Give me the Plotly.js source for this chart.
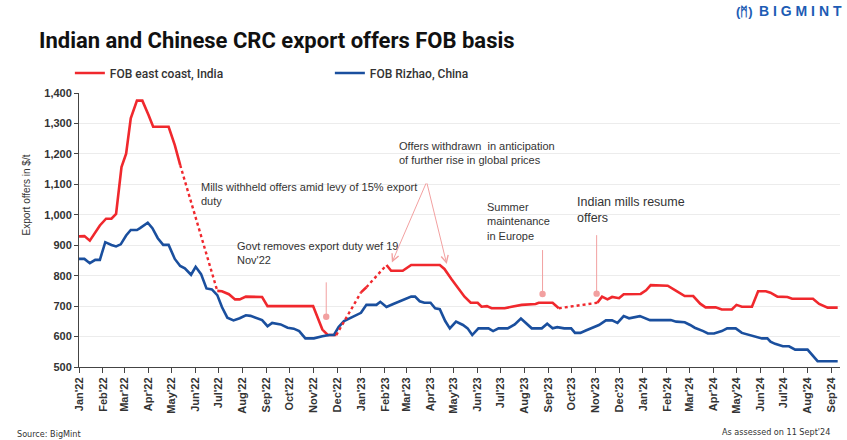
<!DOCTYPE html>
<html>
<head>
<meta charset="utf-8">
<script src="https://cdn.plot.ly/plotly-3.0.1.min.js"></script>
<style>
  html, body { margin: 0; padding: 0; background: #fff; }
  #chart { width: 847px; height: 440px; }
</style>
</head>
<body>
<div id="chart"></div>
<script>
// weekly CRC export offers, $/t
var indiaDates = ['2022-01-01','2022-01-08','2022-01-15','2022-01-22','2022-01-28','2022-02-05','2022-02-12','2022-02-18','2022-02-25','2022-03-03',
  '2022-03-09','2022-03-17','2022-03-24','2022-04-01','2022-04-07','2022-04-27','2022-05-05','2022-05-12','2022-06-01','2022-06-29',
  '2022-07-05','2022-07-14','2022-07-22','2022-07-28','2022-08-05','2022-08-26','2022-09-02','2022-10-31','2022-11-06','2022-11-12',
  '2022-11-19','2022-11-30','2022-12-15','2023-01-01','2023-01-08','2023-01-20','2023-02-03','2023-02-09','2023-02-24','2023-03-07',
  '2023-04-13','2023-04-19','2023-04-28','2023-05-07','2023-05-15','2023-05-23','2023-06-01','2023-06-06','2023-06-13','2023-06-19',
  '2023-07-06','2023-07-15','2023-07-28','2023-08-15','2023-08-19','2023-09-06','2023-09-14','2023-10-10','2023-11-03','2023-11-09',
  '2023-11-16','2023-11-22','2023-12-01','2023-12-07','2023-12-29','2024-01-05','2024-01-11','2024-02-02','2024-02-13','2024-02-24',
  '2024-03-06','2024-03-15','2024-03-22','2024-04-04','2024-04-12','2024-04-25','2024-05-01','2024-05-08','2024-05-21','2024-05-29',
  '2024-06-08','2024-06-14','2024-06-23','2024-07-06','2024-07-12','2024-08-08','2024-08-16','2024-08-27','2024-09-09'];
var indiaOffers = [929,930,915,943,965,987,987,1003,1157,1201,
  1317,1375,1375,1328,1289,1289,1229,1163,null,750,
  749,739,722,722,731,730,700,700,662,623,
  605,605,null,745,762,null,835,816,816,835,
  835,822,789,756,731,711,711,698,700,693,
  693,698,704,707,711,711,693,null,711,731,
  722,730,726,739,740,752,769,767,750,733,
  733,708,696,696,689,689,704,698,698,749,
  749,744,731,730,724,724,707,695,695];

// weeks with no Indian offers (dotted bridge)
var gapDates = ['2022-05-12','2022-06-29','2022-09-01','2022-11-30','2023-01-01','2023-01-05','2023-01-08','2023-02-03','2023-05-01','2023-09-14','2023-11-03'];
var gapOffers = [1163,750,null,605,745,null,762,835,null,693,711];

var chinaDates = ['2022-01-01','2022-01-08','2022-01-15','2022-01-22','2022-01-28','2022-02-04','2022-02-12','2022-02-18','2022-02-24','2022-03-03',
  '2022-03-09','2022-03-17','2022-03-21','2022-03-31','2022-04-06','2022-04-13','2022-04-20','2022-04-27','2022-05-05','2022-05-12',
  '2022-05-18','2022-05-26','2022-06-01','2022-06-08','2022-06-15','2022-06-22','2022-06-29','2022-07-05','2022-07-12','2022-07-20',
  '2022-07-28','2022-08-05','2022-08-11','2022-08-17','2022-08-26','2022-09-02','2022-09-08','2022-09-19','2022-09-28','2022-10-06',
  '2022-10-13','2022-10-21','2022-11-01','2022-11-12','2022-11-21','2022-11-27','2022-12-03','2022-12-10','2022-12-19','2022-12-25',
  '2023-01-01','2023-01-08','2023-01-21','2023-01-26','2023-02-03','2023-02-11','2023-02-24','2023-03-07','2023-03-12','2023-03-18',
  '2023-03-24','2023-04-01','2023-04-07','2023-04-13','2023-04-20','2023-04-26','2023-05-04','2023-05-13','2023-05-19','2023-05-25',
  '2023-06-02','2023-06-15','2023-06-21','2023-06-28','2023-07-10','2023-07-19','2023-07-27','2023-08-04','2023-08-10','2023-08-23',
  '2023-08-30','2023-09-06','2023-09-12','2023-09-21','2023-09-30','2023-10-05','2023-10-12','2023-10-19','2023-10-27','2023-11-05',
  '2023-11-14','2023-11-22','2023-11-29','2023-12-07','2023-12-14','2023-12-20','2023-12-28','2024-01-10','2024-02-06','2024-02-13',
  '2024-02-24','2024-03-02','2024-03-08','2024-03-19','2024-03-25','2024-04-02','2024-04-12','2024-04-19','2024-04-30','2024-05-08',
  '2024-05-15','2024-05-27','2024-06-03','2024-06-10','2024-06-14','2024-06-20','2024-06-30','2024-07-08','2024-07-16','2024-08-01',
  '2024-08-14','2024-09-09'];
var chinaOffers = [855,855,841,852,852,910,901,896,903,932,
  950,950,956,974,956,923,901,901,855,832,
  824,803,829,805,758,755,736,697,662,653,
  660,670,668,662,654,634,645,640,629,626,
  618,594,594,601,605,605,631,651,662,667,
  678,704,704,714,697,706,719,731,731,716,
  711,711,693,690,651,627,649,638,627,605,
  627,627,618,627,627,640,659,640,627,627,
  642,627,631,627,627,612,612,620,629,638,
  653,653,645,667,660,662,667,654,654,649,
  647,638,629,618,610,610,618,627,627,612,
  607,601,594,594,583,576,568,568,557,557,
  519,519];

var red = '#f0282d';
var blue = '#1a4f9e';
var txt = '#333333';
var narrow = '"DejaVu Sans Condensed", Arial, sans-serif';
var plain = '"Liberation Sans", Arial, sans-serif';

// plot area in pixels, used for placing the notes
var L = 79, R = 840, T = 93, B = 367;
function px(x) { return (x - L) / (R - L); }
function py(y) { return (B - y) / (B - T); }

var traces = [
  {x: indiaDates, y: indiaOffers, name: 'FOB east coast, India', type: 'scatter', mode: 'lines',
   line: {color: red, width: 2.6}, connectgaps: false},
  {x: chinaDates, y: chinaOffers, name: 'FOB Rizhao, China', type: 'scatter', mode: 'lines',
   line: {color: blue, width: 2.6}},
  {x: gapDates, y: gapOffers, type: 'scatter', mode: 'lines', showlegend: false,
   line: {color: red, width: 2.4, dash: 'dot'}, connectgaps: false}
];

function note(text, x, y, size) {
  return {xref: 'paper', yref: 'paper', x: px(x), y: py(y), text: text, showarrow: false,
    xanchor: 'left', yanchor: 'top', align: 'left', font: {family: plain, size: size || 11, color: txt}};
}
function pin(x, y, ay) {
  // light red stalk ending in a dot
  return {x: x, y: y, ax: x, ay: ay, axref: 'x', ayref: 'y', xref: 'x', yref: 'y', text: '',
    showarrow: true, arrowhead: 6, arrowsize: 1.6, arrowwidth: 1, arrowcolor: '#f2a0a0', standoff: 0};
}
function arrow(x, y, ax, ay) {
  return {x: x, y: y, ax: ax, ay: ay, axref: 'x', ayref: 'y', xref: 'x', yref: 'y', text: '',
    showarrow: true, arrowhead: 5, arrowsize: 1.4, arrowwidth: 1, arrowcolor: '#f2a0a0'};
}

var layout = {
  width: 847, height: 440,
  margin: {l: L, r: 847 - R, t: T, b: 440 - B},
  paper_bgcolor: '#fff', plot_bgcolor: '#fff',
  title: {text: 'Indian and Chinese CRC export offers FOB basis', x: 39 / 847, xanchor: 'left',
    y: 1 - 40 / 440, yanchor: 'middle', font: {family: 'Roboto, Arial, sans-serif', size: 22, weight: 700, color: '#111'}},
  showlegend: true,
  legend: {orientation: 'h', x: -0.012, xanchor: 'left', y: 1.073, yanchor: 'middle',
    entrywidth: 215, entrywidthmode: 'pixels', itemwidth: 30,
    font: {family: 'Roboto, Arial, sans-serif', size: 12, weight: 500, color: txt}},
  xaxis: {
    type: 'date', range: ['2022-01-01', '2024-09-12'],
    tick0: '2022-01-01', dtick: 'M1', tickformat: "%b'%y", tickangle: -90,
    ticks: 'outside', ticklen: 5, tickcolor: '#444',
    showline: true, linecolor: '#444', linewidth: 1, showgrid: false, zeroline: false,
    tickfont: {family: plain, size: 11, color: txt, weight: 'bold'}
  },
  yaxis: {
    range: [500, 1400], dtick: 100, tickformat: ',d',
    ticks: 'outside', ticklen: 4, tickcolor: '#444',
    showline: true, linecolor: '#444', linewidth: 1,
    gridcolor: '#ececec', gridwidth: 1, zeroline: false,
    tickfont: {family: plain, size: 11, color: txt, weight: 'bold'}
  },
  annotations: [
    {xref: 'paper', yref: 'paper', x: px(18), y: py(195), text: 'Export offers in $/t', textangle: -90,
     showarrow: false, font: {family: plain, size: 10, color: txt}},
    note('Mills withheld offers amid levy of 15% export<br>duty', 199, 179),
    note('Govt removes export duty wef 19<br>Nov\'22', 235, 238),
    note('Offers withdrawn  in anticipation<br>of further rise in global prices', 397, 138),
    note('Summer<br>maintenance<br>in Europe', 485, 199),
    note('Indian mills resume<br>offers', 575, 193, 12.5),
    pin('2022-11-17', 665, 783),
    pin('2023-08-24', 740, 889),
    pin('2023-11-02', 741, 938),
    arrow('2023-02-10', 843, '2023-03-27', 1108),
    arrow('2023-04-22', 838, '2023-03-27', 1108),
    {xref: 'paper', yref: 'paper', x: px(15), y: py(434), xanchor: 'left', yanchor: 'middle', showarrow: false,
     text: 'Source: BigMint', font: {family: narrow, size: 9, color: txt}},
    {xref: 'paper', yref: 'paper', x: px(832), y: py(432), xanchor: 'right', yanchor: 'middle', showarrow: false,
     text: 'As assessed on 11 Sept\'24', font: {family: narrow, size: 9, color: txt}},
    {xref: 'paper', yref: 'paper', x: px(757), y: py(11), xanchor: 'left', yanchor: 'middle', showarrow: false,
     text: '<b>B I G M I N T</b>', font: {family: plain, size: 14, color: '#1d5cb4'}},
    {xref: 'paper', yref: 'paper', x: px(744), y: py(11), xanchor: 'center', yanchor: 'middle', showarrow: false,
     text: '<b>(ᛗ)</b>', font: {family: plain, size: 13, color: '#1d5cb4'}}
  ]
};

Plotly.newPlot('chart', traces, layout, {displayModeBar: false, staticPlot: true});
</script>
</body>
</html>
